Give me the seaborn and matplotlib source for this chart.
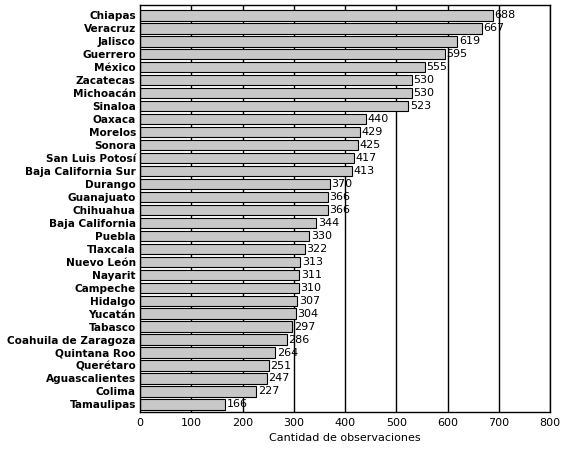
import matplotlib
matplotlib.use("Agg")
import matplotlib.pyplot as plt
import seaborn as sns
import pandas as pd

states = ["Chiapas","Veracruz","Jalisco","Guerrero","México","Zacatecas","Michoacán","Sinaloa",
          "Oaxaca","Morelos","Sonora","San Luis Potosí","Baja California Sur","Durango","Guanajuato",
          "Chihuahua","Baja California","Puebla","Tlaxcala","Nuevo León","Nayarit","Campeche",
          "Hidalgo","Yucatán","Tabasco","Coahuila de Zaragoza","Quintana Roo","Querétaro",
          "Aguascalientes","Colima","Tamaulipas"]
values = [688,667,619,595,555,530,530,523,440,429,425,417,413,370,366,366,344,330,322,313,
          311,310,307,304,297,286,264,251,247,227,166]
xticks = [0,100,200,300,400,500,600,700,800]

df = pd.DataFrame({"estado": states, "obs": values})
sns.set_style("white")
fig = plt.figure(figsize=(5.69,4.57), dpi=100)
ax = fig.add_axes([0.246,0.098,0.721,0.891])
for t in xticks[1:]:
    ax.axvline(t, color="black", lw=1, zorder=0.5)
sns.barplot(data=df, x="obs", y="estado", color="#c8c8c8", edgecolor="black",
            linewidth=0.8, width=0.8, ax=ax, saturation=1)
for p in ax.patches:
    p.set_zorder(2)
for i, v in enumerate(values):
    ax.text(v+3, i, str(v), va="center", ha="left", fontsize=8, color="black", zorder=3)
ax.set_xlim(0,800)
ax.set_ylim(len(values)-0.4, -0.8)
ax.set_xticks(xticks)
ax.set_xlabel("Cantidad de observaciones", fontsize=8, color="black")
ax.set_ylabel("")
ax.tick_params(axis="x", labelsize=8, length=0, pad=4, colors="black")
ax.tick_params(axis="y", length=0, pad=3, colors="black")
for lab in ax.get_yticklabels():
    lab.set_fontsize(7.6); lab.set_fontweight("bold")
for s in ax.spines.values():
    s.set_color("black"); s.set_linewidth(1)
fig.savefig("out.png", dpi=100)
